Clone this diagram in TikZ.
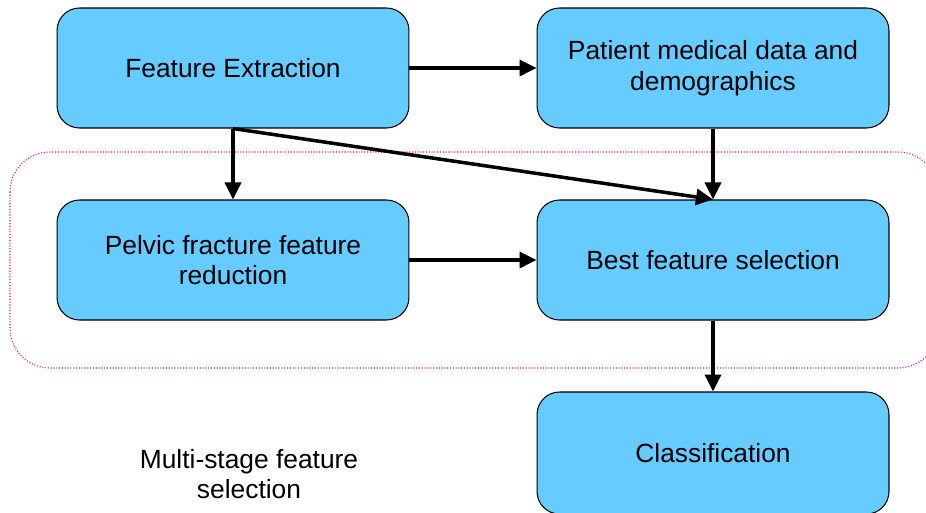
\documentclass[tikz,border=0pt]{standalone}
\usepackage{fontspec}
\setmainfont{Liberation Sans}
\usetikzlibrary{arrows.meta}
\definecolor{boxblue}{RGB}{102,204,255}
\definecolor{framepink}{RGB}{255,0,110}
\begin{document}
\begin{tikzpicture}[x=0.02cm,y=-0.02cm,
  stage/.style={draw=black,line width=0.6pt,fill=boxblue,rounded corners=0.45cm,
    minimum width=7.04cm,minimum height=2.4cm,align=center,
    font=\fontsize{15}{17.5}\selectfont},
  link/.style={line width=2pt,-{Triangle[length=0.34cm,width=0.32cm]}}]

\useasboundingbox (0,0) rectangle (926,512);

% dotted frame around the selection stage
\draw[framepink,densely dotted,line width=0.6pt,rounded corners=0.8cm] (10,152) rectangle (938,368);

\node[stage] (extract) at (233,68) {Feature Extraction};
\node[stage] (patient) at (713,68) {Patient medical data and\\demographics};
\node[stage] (pelvic) at (233,260) {Pelvic fracture feature\\reduction};
\node[stage] (best) at (713,260) {Best feature selection};
\node[stage,minimum height=2.44cm] (classify) at (713,453) {Classification};

\node[align=center,font=\fontsize{15}{17.5}\selectfont] (caption) at (249,474) {Multi-stage feature\\selection};

      % connectors
\draw[link] (extract) -- (patient);
\draw[link] (extract.south) -- (pelvic.north);
\draw[link] (extract.south) -- (best.north);
\draw[link] (patient) -- (best);
\draw[link] (pelvic) -- (best);
\draw[link] (best) -- (classify);

\end{tikzpicture}
\end{document}
